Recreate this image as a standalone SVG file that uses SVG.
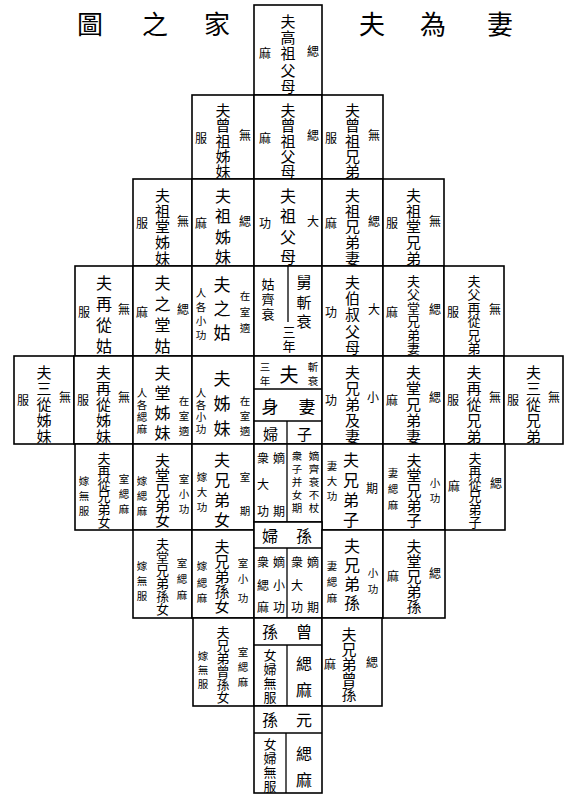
<svg xmlns="http://www.w3.org/2000/svg" width="566" height="795" viewBox="0 0 566 795">
<style>
.c{fill:#fff;stroke:#000;stroke-width:1.6}
.l{stroke:#000;stroke-width:1.3;fill:none}
text{font-family:"Noto Sans CJK TC","Noto Sans CJK SC",sans-serif;fill:#000;text-anchor:middle;dominant-baseline:central}
.t{font-size:26px}
.m{font-size:15px}
.m4{font-size:16px}
.m6{font-size:13px}
.s{font-size:12px}
.ss{font-size:10.5px}
.b{font-size:17px}
</style>
<rect width="566" height="795" fill="#fff"/>
<g id="title">
<text class="t" x="90" y="22">圖</text><text class="t" x="155" y="22">之</text><text class="t" x="217" y="22">家</text>
<text class="t" x="372" y="22">夫</text><text class="t" x="433" y="22">為</text><text class="t" x="500" y="22">妻</text>
</g>
<g id="connectors">
<line class="l" x1="288" y1="266" x2="288" y2="322"/>
<line class="l" x1="254" y1="389" x2="322" y2="389"/>
<line class="l" x1="254" y1="421" x2="322" y2="421"/>
<line class="l" x1="287" y1="421" x2="287" y2="522"/>
<line class="l" x1="254" y1="548" x2="322" y2="548"/>
<line class="l" x1="287" y1="548" x2="287" y2="618"/>
<line class="l" x1="254" y1="645" x2="322" y2="645"/>
<line class="l" x1="287" y1="645" x2="287" y2="706"/>
<line class="l" x1="254" y1="733" x2="322" y2="733"/>
<line class="l" x1="286" y1="733" x2="286" y2="793"/>
</g>
<!-- Row 1 -->
<g id="n1"><rect class="c" x="254" y="5" width="68" height="90"/>
<text class="m"><tspan x="288" y="20">夫</tspan><tspan x="288" y="36">高</tspan><tspan x="288" y="52">祖</tspan><tspan x="288" y="69">父</tspan><tspan x="288" y="85">母</tspan></text>
<text class="s" x="313" y="50">緦</text><text class="s" x="265" y="52">麻</text></g>
<!-- Row 2 -->
<g id="n2"><rect class="c" x="192" y="95" width="62" height="84"/>
<text class="m"><tspan x="223" y="109">夫</tspan><tspan x="223" y="124">曾</tspan><tspan x="223" y="140">祖</tspan><tspan x="223" y="155">姊</tspan><tspan x="223" y="170">妹</tspan></text>
<text class="s" x="245" y="134">無</text><text class="s" x="201" y="137">服</text></g>
<g id="n3"><rect class="c" x="254" y="95" width="68" height="84"/>
<text class="m"><tspan x="288" y="109">夫</tspan><tspan x="288" y="124">曾</tspan><tspan x="288" y="140">祖</tspan><tspan x="288" y="155">父</tspan><tspan x="288" y="170">母</tspan></text>
<text class="s" x="313" y="134">緦</text><text class="s" x="265" y="137">麻</text></g>
<g id="n4"><rect class="c" x="322" y="95" width="61" height="84"/>
<text class="m"><tspan x="352.5" y="109">夫</tspan><tspan x="352.5" y="124">曾</tspan><tspan x="352.5" y="140">祖</tspan><tspan x="352.5" y="155">兄</tspan><tspan x="352.5" y="170">弟</tspan></text>
<text class="s" x="374" y="134">無</text><text class="s" x="331" y="137">服</text></g>
<!-- Row 3 -->
<g id="n5"><rect class="c" x="133" y="179" width="59" height="87"/>
<text class="m"><tspan x="162.5" y="194">夫</tspan><tspan x="162.5" y="210">祖</tspan><tspan x="162.5" y="225">堂</tspan><tspan x="162.5" y="241">姊</tspan><tspan x="162.5" y="257">妹</tspan></text>
<text class="s" x="183" y="220">無</text><text class="s" x="142" y="222">服</text></g>
<g id="n6"><rect class="c" x="192" y="179" width="62" height="87"/>
<text class="m4"><tspan x="223" y="195">夫</tspan><tspan x="223" y="215">祖</tspan><tspan x="223" y="236">姊</tspan><tspan x="223" y="256">妹</tspan></text>
<text class="s" x="245" y="220">緦</text><text class="s" x="201" y="222">麻</text></g>
<g id="n7"><rect class="c" x="254" y="179" width="68" height="87"/>
<text class="m4"><tspan x="288" y="195">夫</tspan><tspan x="288" y="215">祖</tspan><tspan x="288" y="236">父</tspan><tspan x="288" y="256">母</tspan></text>
<text class="s" x="313" y="220">大</text><text class="s" x="265" y="222">功</text></g>
<g id="n8"><rect class="c" x="322" y="179" width="61" height="87"/>
<text class="m"><tspan x="352.5" y="194">夫</tspan><tspan x="352.5" y="210">祖</tspan><tspan x="352.5" y="225">兄</tspan><tspan x="352.5" y="241">弟</tspan><tspan x="352.5" y="257">妻</tspan></text>
<text class="s" x="374" y="220">緦</text><text class="s" x="331" y="222">麻</text></g>
<g id="n9"><rect class="c" x="383" y="179" width="61" height="87"/>
<text class="m"><tspan x="413.5" y="194">夫</tspan><tspan x="413.5" y="210">祖</tspan><tspan x="413.5" y="225">堂</tspan><tspan x="413.5" y="241">兄</tspan><tspan x="413.5" y="257">弟</tspan></text>
<text class="s" x="435" y="220">無</text><text class="s" x="392" y="222">服</text></g>
<!-- Row 4 -->
<g id="n10"><rect class="c" x="75" y="266" width="58" height="90"/>
<text class="m4"><tspan x="104" y="282">夫</tspan><tspan x="104" y="303">再</tspan><tspan x="104" y="324">從</tspan><tspan x="104" y="345">姑</tspan></text>
<text class="s" x="124" y="308">無</text><text class="s" x="84" y="311">服</text></g>
<g id="n11"><rect class="c" x="133" y="266" width="59" height="90"/>
<text class="m4"><tspan x="162.5" y="282">夫</tspan><tspan x="162.5" y="303">之</tspan><tspan x="162.5" y="324">堂</tspan><tspan x="162.5" y="345">姑</tspan></text>
<text class="s" x="183" y="308">緦</text><text class="s" x="142" y="311">麻</text></g>
<g id="n12"><rect class="c" x="192" y="266" width="62" height="90"/>
<text class="b"><tspan x="222" y="283">夫</tspan><tspan x="222" y="307">之</tspan><tspan x="222" y="331">姑</tspan></text>
<text class="ss"><tspan x="245" y="295">在</tspan><tspan x="245" y="311">室</tspan><tspan x="245" y="327">適</tspan></text>
<text class="ss"><tspan x="201" y="292">人</tspan><tspan x="201" y="306">各</tspan><tspan x="201" y="320">小</tspan><tspan x="201" y="334">功</tspan></text></g>
<g id="n13"><rect class="c" x="254" y="266" width="68" height="90"/>
<line class="l" x1="288" y1="266" x2="288" y2="322"/>
<text class="m"><tspan x="304" y="281">舅</tspan><tspan x="304" y="301">斬</tspan><tspan x="304" y="320">衰</tspan></text>
<text class="m6"><tspan x="268" y="283">姑</tspan><tspan x="268" y="298">齊</tspan><tspan x="268" y="313">衰</tspan></text>
<text class="m6"><tspan x="289" y="331">三</tspan><tspan x="289" y="345">年</tspan></text></g>
<g id="n14"><rect class="c" x="322" y="266" width="61" height="90"/>
<text class="m"><tspan x="352.5" y="281">夫</tspan><tspan x="352.5" y="297">伯</tspan><tspan x="352.5" y="313">叔</tspan><tspan x="352.5" y="330">父</tspan><tspan x="352.5" y="346">母</tspan></text>
<text class="s" x="374" y="308">大</text><text class="s" x="331" y="311">功</text></g>
<g id="n15"><rect class="c" x="383" y="266" width="61" height="90"/>
<text class="m6"><tspan x="413.5" y="280">夫</tspan><tspan x="413.5" y="293">父</tspan><tspan x="413.5" y="307">堂</tspan><tspan x="413.5" y="320">兄</tspan><tspan x="413.5" y="334">弟</tspan><tspan x="413.5" y="347">妻</tspan></text>
<text class="s" x="435" y="308">緦</text><text class="s" x="392" y="311">麻</text></g>
<g id="n16"><rect class="c" x="444" y="266" width="60" height="90"/>
<text class="m6"><tspan x="474" y="280">夫</tspan><tspan x="474" y="293">父</tspan><tspan x="474" y="307">再</tspan><tspan x="474" y="320">從</tspan><tspan x="474" y="334">兄</tspan><tspan x="474" y="347">弟</tspan></text>
<text class="s" x="495" y="308">無</text><text class="s" x="453" y="311">服</text></g>
<!-- Row 5 -->
<g id="n17"><rect class="c" x="14" y="356" width="60" height="88"/>
<text class="m"><tspan x="44" y="371">夫</tspan><tspan x="44" y="387">三</tspan><tspan x="44" y="403">從</tspan><tspan x="44" y="419">姊</tspan><tspan x="44" y="435">妹</tspan></text>
<text class="s" x="65" y="396">無</text><text class="s" x="23" y="399">服</text></g>
<g id="n18"><rect class="c" x="74" y="356" width="59" height="88"/>
<text class="m"><tspan x="103.5" y="371">夫</tspan><tspan x="103.5" y="387">再</tspan><tspan x="103.5" y="403">從</tspan><tspan x="103.5" y="419">姊</tspan><tspan x="103.5" y="435">妹</tspan></text>
<text class="s" x="124" y="396">無</text><text class="s" x="83" y="399">服</text></g>
<g id="n19"><rect class="c" x="133" y="356" width="59" height="88"/>
<text class="m4"><tspan x="162.5" y="372">夫</tspan><tspan x="162.5" y="392">堂</tspan><tspan x="162.5" y="412">姊</tspan><tspan x="162.5" y="432">妹</tspan></text>
<text class="ss"><tspan x="184" y="400">在</tspan><tspan x="184" y="415">室</tspan><tspan x="184" y="430">適</tspan></text>
<text class="ss"><tspan x="142" y="392">人</tspan><tspan x="142" y="404">各</tspan><tspan x="142" y="416">緦</tspan><tspan x="142" y="428">麻</tspan></text></g>
<g id="n20"><rect class="c" x="192" y="356" width="62" height="88"/>
<text class="b"><tspan x="222" y="377">夫</tspan><tspan x="222" y="402">姊</tspan><tspan x="222" y="427">妹</tspan></text>
<text class="ss"><tspan x="245" y="400">在</tspan><tspan x="245" y="415">室</tspan><tspan x="245" y="430">適</tspan></text>
<text class="ss"><tspan x="201" y="392">人</tspan><tspan x="201" y="404">各</tspan><tspan x="201" y="416">小</tspan><tspan x="201" y="428">功</tspan></text></g>
<g id="n21"><rect class="c" x="254" y="356" width="68" height="88"/>
<line class="l" x1="254" y1="389" x2="322" y2="389"/><line class="l" x1="254" y1="421" x2="322" y2="421"/><line class="l" x1="287" y1="421" x2="287" y2="444"/>
<text x="289" y="373" style="font-size:19px">夫</text>
<text class="ss"><tspan x="313" y="366">斬</tspan><tspan x="313" y="380">衰</tspan></text>
<text class="ss"><tspan x="265" y="366">三</tspan><tspan x="265" y="380">年</tspan></text>
<text class="b" x="270" y="405">身</text><text class="b" x="307" y="405">妻</text>
<text class="m" x="270.5" y="433">婦</text><text class="m" x="304.5" y="433">子</text></g>
<g id="n22"><rect class="c" x="322" y="356" width="61" height="88"/>
<text class="m"><tspan x="352.5" y="371">夫</tspan><tspan x="352.5" y="387">兄</tspan><tspan x="352.5" y="403">弟</tspan><tspan x="352.5" y="419">及</tspan><tspan x="352.5" y="435">妻</tspan></text>
<text class="s" x="373" y="396">小</text><text class="s" x="331" y="399">功</text></g>
<g id="n23"><rect class="c" x="383" y="356" width="61" height="88"/>
<text class="m"><tspan x="413.5" y="371">夫</tspan><tspan x="413.5" y="387">堂</tspan><tspan x="413.5" y="403">兄</tspan><tspan x="413.5" y="419">弟</tspan><tspan x="413.5" y="435">妻</tspan></text>
<text class="s" x="435" y="396">緦</text><text class="s" x="392" y="399">麻</text></g>
<g id="n24"><rect class="c" x="444" y="356" width="60" height="88"/>
<text class="m"><tspan x="474" y="371">夫</tspan><tspan x="474" y="387">再</tspan><tspan x="474" y="403">從</tspan><tspan x="474" y="419">兄</tspan><tspan x="474" y="435">弟</tspan></text>
<text class="s" x="495" y="396">無</text><text class="s" x="453" y="399">服</text></g>
<g id="n25"><rect class="c" x="504" y="356" width="59" height="88"/>
<text class="m"><tspan x="533.5" y="371">夫</tspan><tspan x="533.5" y="387">三</tspan><tspan x="533.5" y="403">從</tspan><tspan x="533.5" y="419">兄</tspan><tspan x="533.5" y="435">弟</tspan></text>
<text class="s" x="554" y="396">無</text><text class="s" x="513" y="399">服</text></g>
<!-- Row 6 -->
<g id="n26"><rect class="c" x="75" y="444" width="58" height="86"/>
<text class="m6"><tspan x="104" y="457">夫</tspan><tspan x="104" y="470">再</tspan><tspan x="104" y="483">從</tspan><tspan x="104" y="495">兄</tspan><tspan x="104" y="508">弟</tspan><tspan x="104" y="521">女</tspan></text>
<text class="ss"><tspan x="124" y="478">室</tspan><tspan x="124" y="493">緦</tspan><tspan x="124" y="508">麻</tspan></text>
<text class="ss"><tspan x="84" y="480">嫁</tspan><tspan x="84" y="495">無</tspan><tspan x="84" y="510">服</tspan></text></g>
<g id="n27"><rect class="c" x="133" y="444" width="59" height="86"/>
<text class="m"><tspan x="162.5" y="459">夫</tspan><tspan x="162.5" y="474">堂</tspan><tspan x="162.5" y="489">兄</tspan><tspan x="162.5" y="504">弟</tspan><tspan x="162.5" y="519">女</tspan></text>
<text class="ss"><tspan x="184" y="478">室</tspan><tspan x="184" y="493">小</tspan><tspan x="184" y="508">功</tspan></text>
<text class="ss"><tspan x="142" y="480">嫁</tspan><tspan x="142" y="495">緦</tspan><tspan x="142" y="510">麻</tspan></text></g>
<g id="n28"><rect class="c" x="192" y="444" width="62" height="86"/>
<text class="m4"><tspan x="222" y="459">夫</tspan><tspan x="222" y="479">兄</tspan><tspan x="222" y="499">弟</tspan><tspan x="222" y="519">女</tspan></text>
<text class="ss"><tspan x="245" y="476">室</tspan><tspan x="245" y="510">期</tspan></text>
<text class="ss"><tspan x="202" y="476">嫁</tspan><tspan x="202" y="491">大</tspan><tspan x="202" y="506">功</tspan></text></g>
<g id="n29"><rect class="c" x="254" y="444" width="68" height="78"/>
<line class="l" x1="287" y1="444" x2="287" y2="522"/>
<text class="s"><tspan x="279" y="457">嫡</tspan><tspan x="279" y="510">期</tspan></text>
<text class="s"><tspan x="263" y="457">衆</tspan><tspan x="263" y="483">大</tspan><tspan x="263" y="510">功</tspan></text>
<text class="ss"><tspan x="314" y="455">嫡</tspan><tspan x="314" y="468">齊</tspan><tspan x="314" y="481">衰</tspan><tspan x="314" y="494">不</tspan><tspan x="314" y="507">杖</tspan></text>
<text class="ss"><tspan x="297" y="455">衆</tspan><tspan x="297" y="468">子</tspan><tspan x="297" y="481">并</tspan><tspan x="297" y="494">女</tspan><tspan x="297" y="507">期</tspan></text></g>
<g id="n30"><rect class="c" x="322" y="444" width="61" height="86"/>
<text class="m4"><tspan x="351" y="459">夫</tspan><tspan x="351" y="479">兄</tspan><tspan x="351" y="499">弟</tspan><tspan x="351" y="519">子</tspan></text>
<text class="s" x="372" y="487">期</text>
<text class="ss"><tspan x="332" y="465">妻</tspan><tspan x="332" y="480">大</tspan><tspan x="332" y="495">功</tspan></text></g>
<g id="n31"><rect class="c" x="383" y="444" width="62" height="86"/>
<text class="m"><tspan x="414" y="459">夫</tspan><tspan x="414" y="474">堂</tspan><tspan x="414" y="489">兄</tspan><tspan x="414" y="504">弟</tspan><tspan x="414" y="519">子</tspan></text>
<text class="ss"><tspan x="435" y="482">小</tspan><tspan x="435" y="497">功</tspan></text>
<text class="ss"><tspan x="393" y="472">妻</tspan><tspan x="393" y="488">緦</tspan><tspan x="393" y="504">麻</tspan></text></g>
<g id="n32"><rect class="c" x="445" y="444" width="60" height="86"/>
<text class="m6"><tspan x="475" y="457">夫</tspan><tspan x="475" y="470">再</tspan><tspan x="475" y="483">從</tspan><tspan x="475" y="495">兄</tspan><tspan x="475" y="508">弟</tspan><tspan x="475" y="521">子</tspan></text>
<text class="s" x="496" y="482">緦</text><text class="s" x="454" y="485">麻</text></g>
<!-- Row 7 -->
<g id="n33"><rect class="c" x="133" y="530" width="59" height="88"/>
<text class="m6"><tspan x="162.5" y="543">夫</tspan><tspan x="162.5" y="556">堂</tspan><tspan x="162.5" y="569">兄</tspan><tspan x="162.5" y="582">弟</tspan><tspan x="162.5" y="595">孫</tspan><tspan x="162.5" y="608">女</tspan></text>
<text class="ss"><tspan x="182" y="562">室</tspan><tspan x="182" y="578">緦</tspan><tspan x="182" y="594">麻</tspan></text>
<text class="ss"><tspan x="142" y="565">嫁</tspan><tspan x="142" y="580">無</tspan><tspan x="142" y="595">服</tspan></text></g>
<g id="n34"><rect class="c" x="192" y="530" width="62" height="88"/>
<text class="m"><tspan x="222" y="545">夫</tspan><tspan x="222" y="560">兄</tspan><tspan x="222" y="575">弟</tspan><tspan x="222" y="590">孫</tspan><tspan x="222" y="605">女</tspan></text>
<text class="ss"><tspan x="243" y="562">室</tspan><tspan x="243" y="578">小</tspan><tspan x="243" y="597">功</tspan></text>
<text class="ss"><tspan x="202" y="565">嫁</tspan><tspan x="202" y="582">緦</tspan><tspan x="202" y="597">麻</tspan></text></g>
<g id="n35"><rect class="c" x="254" y="522" width="68" height="96"/>
<line class="l" x1="254" y1="548" x2="322" y2="548"/><line class="l" x1="287" y1="548" x2="287" y2="618"/>
<text class="m4" x="270" y="535">婦</text><text class="m4" x="304" y="535">孫</text>
<text class="s"><tspan x="279" y="561">嫡</tspan><tspan x="279" y="584">小</tspan><tspan x="279" y="606">功</tspan></text>
<text class="s"><tspan x="263" y="561">衆</tspan><tspan x="263" y="584">緦</tspan><tspan x="263" y="606">麻</tspan></text>
<text class="s"><tspan x="313" y="561">嫡</tspan><tspan x="313" y="606">期</tspan></text>
<text class="s"><tspan x="297" y="561">衆</tspan><tspan x="297" y="584">大</tspan><tspan x="297" y="606">功</tspan></text></g>
<g id="n36"><rect class="c" x="322" y="530" width="61" height="88"/>
<text class="m4"><tspan x="352" y="545">夫</tspan><tspan x="352" y="564">兄</tspan><tspan x="352" y="583">弟</tspan><tspan x="352" y="602">孫</tspan></text>
<text class="ss"><tspan x="373" y="572">小</tspan><tspan x="373" y="588">功</tspan></text>
<text class="ss"><tspan x="332" y="565">妻</tspan><tspan x="332" y="581">緦</tspan><tspan x="332" y="597">麻</tspan></text></g>
<g id="n37"><rect class="c" x="383" y="530" width="62" height="88"/>
<text class="m"><tspan x="414" y="545">夫</tspan><tspan x="414" y="560">堂</tspan><tspan x="414" y="575">兄</tspan><tspan x="414" y="590">弟</tspan><tspan x="414" y="605">孫</tspan></text>
<text class="s" x="435" y="572">緦</text><text class="s" x="393" y="575">麻</text></g>
<!-- Row 8 -->
<g id="n38"><rect class="c" x="193" y="618" width="61" height="88"/>
<text class="m6"><tspan x="223" y="631">夫</tspan><tspan x="223" y="644">兄</tspan><tspan x="223" y="657">弟</tspan><tspan x="223" y="670">曾</tspan><tspan x="223" y="683">孫</tspan><tspan x="223" y="696">女</tspan></text>
<text class="ss"><tspan x="243" y="651">室</tspan><tspan x="243" y="666">緦</tspan><tspan x="243" y="681">麻</tspan></text>
<text class="ss"><tspan x="203" y="655">嫁</tspan><tspan x="203" y="669">無</tspan><tspan x="203" y="683">服</tspan></text></g>
<g id="n39"><rect class="c" x="254" y="618" width="68" height="88"/>
<line class="l" x1="254" y1="645" x2="322" y2="645"/><line class="l" x1="287" y1="645" x2="287" y2="706"/>
<text class="m4" x="270" y="631">孫</text><text class="m4" x="304" y="631">曾</text>
<text class="m6"><tspan x="270" y="654">女</tspan><tspan x="270" y="668">婦</tspan><tspan x="270" y="682">無</tspan><tspan x="270" y="696">服</tspan></text>
<text class="m4"><tspan x="304" y="663">緦</tspan><tspan x="304" y="689">麻</tspan></text></g>
<g id="n40"><rect class="c" x="322" y="618" width="60" height="88"/>
<text class="m"><tspan x="349" y="633">夫</tspan><tspan x="349" y="648">兄</tspan><tspan x="349" y="663">弟</tspan><tspan x="349" y="678">曾</tspan><tspan x="349" y="693">孫</tspan></text>
<text class="s" x="372" y="661">緦</text><text class="s" x="330" y="663">麻</text></g>
<!-- Row 9 -->
<g id="n41"><rect class="c" x="254" y="706" width="68" height="87"/>
<line class="l" x1="254" y1="733" x2="322" y2="733"/><line class="l" x1="286" y1="733" x2="286" y2="793"/>
<text class="m4" x="270" y="719">孫</text><text class="m4" x="304" y="719">元</text>
<text class="m6"><tspan x="270" y="743">女</tspan><tspan x="270" y="757">婦</tspan><tspan x="270" y="771">無</tspan><tspan x="270" y="785">服</tspan></text>
<text class="m4"><tspan x="304" y="753">緦</tspan><tspan x="304" y="779">麻</tspan></text></g>
</svg>
